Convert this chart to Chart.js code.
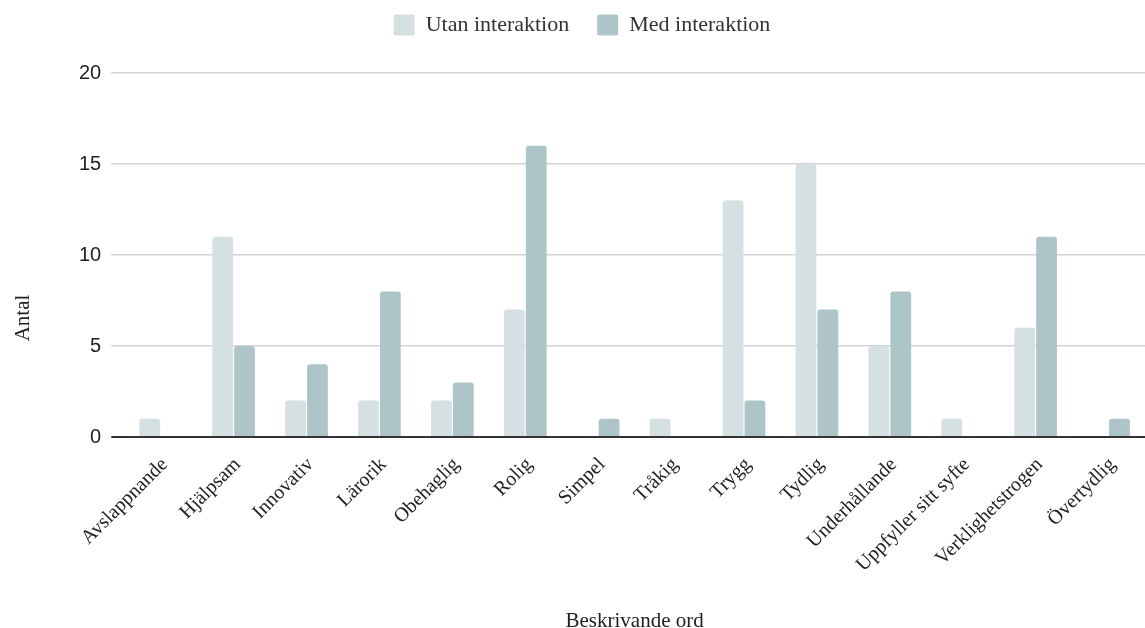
<!DOCTYPE html>
<html>
<head>
<meta charset="utf-8">
<script src="https://cdn.jsdelivr.net/npm/chart.js@4.4.1/dist/chart.umd.min.js"></script>
<style>
	html, body { margin: 0; padding: 0; background: #fff; }
	#wrap { width: 1145px; height: 628px; position: relative; }
</style>
</head>
<body>
<div id="wrap"><canvas id="ordChart"></canvas></div>
<script>
var words = [
	'Avslappnande', 'Hjälpsam', 'Innovativ', 'Lärorik', 'Obehaglig', 'Rolig', 'Simpel',
	'Tråkig', 'Trygg', 'Tydlig', 'Underhållande', 'Uppfyller sitt syfte', 'Verklighetstrogen', 'Övertydlig'
];
var utanInteraktion = [1, 11, 2, 2, 2, 7, 0, 1, 13, 15, 5, 1, 6, 0];
var medInteraktion = [0, 5, 4, 8, 3, 16, 1, 0, 2, 7, 8, 0, 11, 1];

var serif = '"Liberation Serif", "Times New Roman", serif';

// y title sits lower than the axis centre, so it is drawn by hand
var yTitle = {
	id: 'yTitle',
	afterDraw: function(chart) {
		var ctx = chart.ctx;
		ctx.save();
		ctx.translate(23, 318);
		ctx.rotate(-Math.PI / 2);
		ctx.font = '21px ' + serif;
		ctx.fillStyle = '#222';
		ctx.textAlign = 'center';
		ctx.textBaseline = 'middle';
		ctx.fillText('Antal', 0, 0);
		ctx.restore();
	}
};

// more room under the legend, and the legend centred on the page
var legendGap = {
	id: 'legendGap',
	beforeInit: function(chart) {
		var legend = chart.legend;
		var fit = legend.fit;
		var draw = legend.draw;
		legend.fit = function() {
			fit.bind(legend)();
			this.height += 27;
		};
		legend.draw = function() {
			var ctx = chart.ctx;
			ctx.save();
			ctx.translate(-25, 0);
			draw.bind(legend)();
			ctx.restore();
		};
	}
};

var config = {
	type: 'bar',
	data: {
		labels: words,
		datasets: [{
			label: 'Utan interaktion',
			data: utanInteraktion,
			backgroundColor: '#d4e0e2',
			borderRadius: 3,
			borderSkipped: 'bottom',
		}, {
			label: 'Med interaktion',
			data: medInteraktion,
			backgroundColor: '#adc5c9',
			borderRadius: 3,
			borderSkipped: 'bottom',
		}]
	},
	options: {
		responsive: true,
		maintainAspectRatio: false,
		animation: false,
		datasets: {
			bar: {
				categoryPercentage: 0.6,
				barPercentage: 0.95,
			}
		},
		layout: {
			padding: { left: 69, right: 0, top: -14, bottom: -6 }
		},
		scales: {
			x: {
				grid: { display: false },
				border: { display: false },
				ticks: {
					color: '#222',
					font: { family: serif, size: 20 },
					minRotation: 45,
					maxRotation: 45,
					autoSkip: false,
					padding: 8,
					labelOffset: 4,
				},
				title: {
					display: true,
					text: 'Beskrivande ord',
					color: '#222',
					font: { family: serif, size: 21 },
					padding: { top: 24, bottom: 0 },
				}
			},
			y: {
				min: 0,
				max: 20,
				border: { display: false },
				grid: {
					color: function(c) { return c.tick && c.tick.value === 0 ? '#333' : '#d3d3d3'; },
					lineWidth: function(c) { return c.tick && c.tick.value === 0 ? 2 : 1.5; },
					tickLength: 13,
				},
				ticks: {
					stepSize: 5,
					color: '#222',
					padding: 10,
					font: { family: '"Liberation Sans", Arial, sans-serif', size: 20 },
				}
			}
		},
		plugins: {
			legend: {
				position: 'top',
				labels: {
					color: '#333',
					font: { family: serif, size: 22 },
					boxWidth: 21,
					boxHeight: 21,
					useBorderRadius: true,
					borderRadius: 2,
					padding: 28,
				}
			},
			tooltip: { enabled: false }
		}
	},
	plugins: [yTitle, legendGap]
};

const ordChart = new Chart(document.getElementById('ordChart'), config);
</script>
</body>
</html>
